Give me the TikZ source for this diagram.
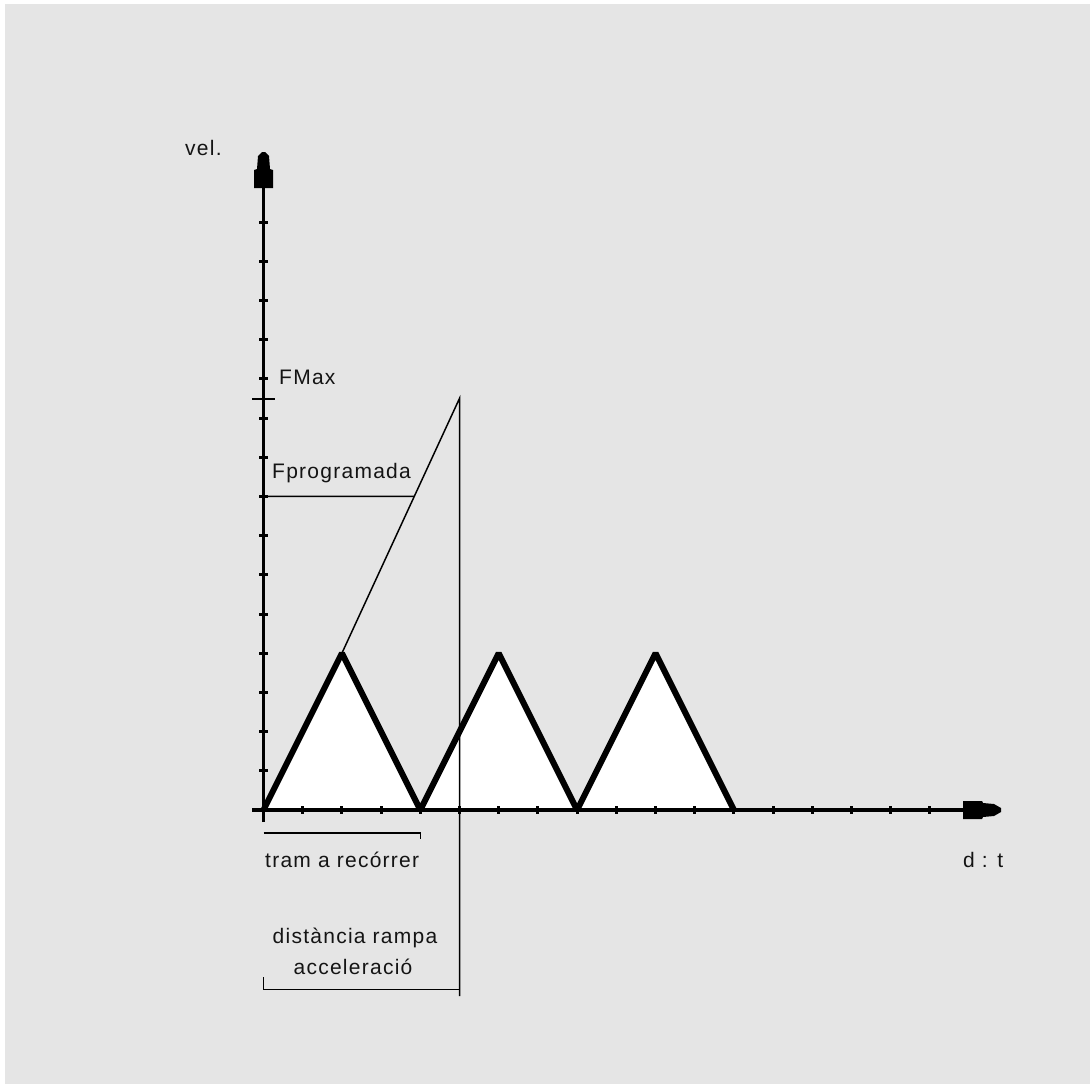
\documentclass[tikz,border=0pt]{standalone}
\usepackage{fontspec}
\setmainfont{Liberation Sans}[LetterSpace=6]
\usetikzlibrary{calc}
\definecolor{bg}{RGB}{229,229,229}
\definecolor{ink}{RGB}{20,20,20}
\begin{document}
\begin{tikzpicture}[x=1pt,y=-1pt,
  axisline/.style={line width=3.5pt, draw=black},
  thinline/.style={line width=1.5pt, draw=black},
  zigline/.style={line width=6pt, draw=black, line join=bevel},
  tickmark/.style={line width=3pt, draw=black},
  lbl/.style={font=\fontsize{21}{25}\selectfont, text=ink, inner sep=0pt, anchor=base west}]
\useasboundingbox (0,0) rectangle (1090,1084);
\fill[white] (0,0) rectangle (1090,1084);
\fill[bg] (5,4) rectangle (1090,1084);

% key points
\coordinate (O) at (263.5,810);
\coordinate (p1) at (341.9,653.2);
\coordinate (b1) at (420.3,810);
\coordinate (p2) at (498.7,653.2);
\coordinate (b2) at (577.1,810);
\coordinate (p3) at (655.5,653.2);
\coordinate (b3) at (733.9,810);
\coordinate (top) at (459.5,398.4);
\coordinate (f8) at (263.5,496.4);
\coordinate (f8r) at (700,496.4);
\coordinate (fp) at (intersection of p1--top and f8--f8r);

% white triangles
\fill[white] (O) -- (p1) -- (b1) -- (p2) -- (b2) -- (p3) -- (b3) -- cycle;

% thin construction lines
\draw[thinline] (p1) -- (top) -- (459.5,996);
\draw[thinline] (f8) -- (fp);
\draw[thinline] (252,399) -- (275,399);
\draw[thinline] (263.5,833) -- (420.3,833) -- (420.3,839);
\draw[thinline] (263.5,977) -- (263.5,989.5) -- (459.5,989.5);

% axes
\draw[axisline] (263.5,822) -- (263.5,186);
\draw[axisline] (252,810) -- (965,810);
\foreach \k in {1,...,15} \draw[tickmark] (259,810-39.2*\k) -- (268,810-39.2*\k);
\foreach \k in {1,...,17} \draw[tickmark] (263.5+39.2*\k,806) -- (263.5+39.2*\k,814);
% arrowheads
\fill[black] (262,152) -- (265,152) -- (269,156) -- (270,169) -- (273,170) -- (273,188)
  -- (254,188) -- (254,170) -- (257,169) -- (258,156) -- cycle;
\fill[black] (963,801) -- (982,801) -- (983,803) -- (994,804) -- (1001,808) -- (1001,812)
  -- (994,816) -- (983,817) -- (982,819) -- (963,819) -- cycle;

% zigzag
\draw[zigline] (O) -- (p1) -- (b1) -- (p2) -- (b2) -- (p3) -- (b3);

% labels
\node[lbl] (vel) at (185,155) {vel.};
\node[lbl] (fmax) at (279,384) {FMax};
\node[lbl] (fprog) at (272,478) {Fprogramada};
\node[lbl] (tram) at (265,867) {tram a recórrer};
\node[lbl] (dt) at (963,867) {d : t};
\node[lbl, anchor=base] (dist1) at (355,943) {distància rampa};
\node[lbl, anchor=base] (dist2) at (353,974) {acceleració};
\end{tikzpicture}
\end{document}
